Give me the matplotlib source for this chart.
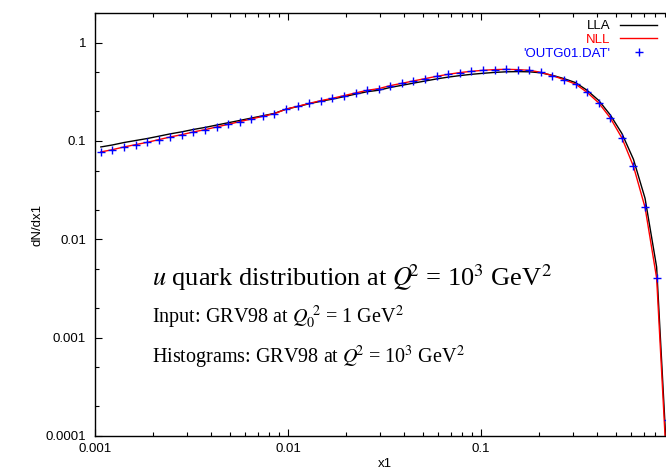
import matplotlib
matplotlib.use("Agg")
import matplotlib.pyplot as plt
from matplotlib.ticker import LogLocator, NullFormatter, FixedLocator, FixedFormatter

plt.rcParams['font.family'] = ['Liberation Sans', 'DejaVu Sans']
plt.rcParams['mathtext.fontset'] = 'stix'

# bin centres (log spaced) of the histogram file
x = [0.001072, 0.001230, 0.001413, 0.001622, 0.001862, 0.002138, 0.002455, 0.002818,
     0.003236, 0.003715, 0.004266, 0.004898, 0.005623, 0.006457, 0.007413, 0.008511,
     0.009772, 0.01122, 0.01288, 0.01479, 0.01698, 0.01950, 0.02239, 0.02570,
     0.02951, 0.03388, 0.03891, 0.04467, 0.05129, 0.05888, 0.06761, 0.07763,
     0.08913, 0.1023, 0.1175, 0.1349, 0.1549, 0.1778, 0.2042, 0.2344,
     0.2692, 0.3090, 0.3548, 0.4074, 0.4677, 0.5370, 0.6166, 0.7079,
     0.8128, 0.9333]

# 'OUTG01.DAT' histogram points
outg = [0.0773, 0.0815, 0.0869, 0.0917, 0.0968, 0.1031, 0.1098, 0.1159,
        0.1235, 0.1303, 0.1388, 0.1475, 0.1572, 0.1674, 0.1779, 0.1895,
        0.2106, 0.2249, 0.2412, 0.2570, 0.2713, 0.2889, 0.3078, 0.3271,
        0.3404, 0.3652, 0.3855, 0.4077, 0.4302, 0.4541, 0.4760, 0.4954,
        0.5105, 0.5227, 0.5313, 0.5351, 0.5313, 0.5227, 0.4989, 0.4616,
        0.4203, 0.3783, 0.3121, 0.2435, 0.1714, 0.1073, 0.0552, 0.0211,
        0.00404, 0.000146]

# NLL evolution
nll = [0.0773, 0.0815, 0.0869, 0.0917, 0.0968, 0.1031, 0.1098, 0.1159,
       0.1235, 0.1303, 0.1388, 0.1475, 0.1572, 0.1674, 0.1779, 0.1895,
       0.2106, 0.2249, 0.2412, 0.2570, 0.2713, 0.2889, 0.3078, 0.3271,
       0.3404, 0.3652, 0.3855, 0.4077, 0.4302, 0.4541, 0.4760, 0.4954,
       0.5105, 0.5227, 0.5313, 0.5351, 0.5313, 0.5227, 0.4989, 0.4616,
       0.4203, 0.3783, 0.3121, 0.2435, 0.1714, 0.1073, 0.0552, 0.0211,
       0.00404, 0.000025]

# LLA evolution
lla = [0.0869, 0.0910, 0.0964, 0.1010, 0.1058, 0.1117, 0.1181, 0.1238,
       0.1309, 0.1372, 0.1451, 0.1531, 0.1616, 0.1709, 0.1804, 0.1908,
       0.2106, 0.2238, 0.2390, 0.2534, 0.2663, 0.2822, 0.2993, 0.3165,
       0.3279, 0.3501, 0.3679, 0.3872, 0.4067, 0.4273, 0.4458, 0.4618,
       0.4759, 0.4873, 0.4976, 0.5047, 0.5070, 0.5047, 0.4931, 0.4648,
       0.4304, 0.3919, 0.3271, 0.2581, 0.1839, 0.1192, 0.0650, 0.0261,
       0.00523, 0.000032]

xticks = [0.001, 0.01, 0.1]
xlabels = ['0.001', '0.01', '0.1']
yticks = [0.0001, 0.001, 0.01, 0.1, 1]
ylabels = ['0.0001', '0.001', '0.01', '0.1', '1']

fig = plt.figure(figsize=(6.66, 4.72), dpi=100)
W, H = 666.0, 472.0
# axes run off the right edge (cropped gnuplot output)
ax = fig.add_axes([95 / W, 36 / H, 579 / W, 423 / H])

ax.plot(x, lla, '-', color='black', lw=1.0, label='LLA')
ax.plot(x, nll, '-', color='red', lw=1.0, label='NLL')
ax.plot(x, outg, '+', color='blue', ms=6, mew=1.0, linestyle='none', label="'OUTG01.DAT'")

ax.set_xscale('log')
ax.set_yscale('log')
ax.set_xlim(0.001, 1)
ax.set_ylim(0.0001, 2)

ax.xaxis.set_major_locator(FixedLocator(xticks))
ax.xaxis.set_major_formatter(FixedFormatter(xlabels))
ax.yaxis.set_major_locator(FixedLocator(yticks))
ax.yaxis.set_major_formatter(FixedFormatter(ylabels))
ax.xaxis.set_minor_locator(LogLocator(base=10, subs=[2, 3, 4, 5, 6, 7, 8, 9]))
ax.yaxis.set_minor_locator(LogLocator(base=10, subs=[2, 5]))
ax.xaxis.set_minor_formatter(NullFormatter())
ax.yaxis.set_minor_formatter(NullFormatter())

ax.tick_params(which='both', direction='in', top=True, right=True, labelsize=9.5, colors='black')
ax.tick_params(which='major', length=5, width=0.8)
ax.tick_params(which='minor', length=3, width=0.8)
ax.tick_params(axis='y', pad=6.5)
ax.tick_params(axis='x', pad=5)
for s in ax.spines.values():
    s.set_linewidth(1.0)

ax.set_xlabel('x1', fontsize=9.5, labelpad=2)
ax.set_ylabel('dN/dx1', fontsize=9.5, labelpad=1)

leg = ax.legend(loc='upper right', bbox_to_anchor=(657 / W, 1 - 20 / H),
                bbox_transform=fig.transFigure, frameon=False, markerfirst=False,
                fontsize=9.5, handlelength=2.8, handletextpad=0.75,
                labelspacing=0.12, borderpad=0, borderaxespad=0)
for t, c in zip(leg.get_texts(), ['black', 'red', 'blue']):
    t.set_color(c)

serif = ['Liberation Serif', 'DejaVu Serif']
fig.text(152 / W, 1 - 286 / H, r'$u$ quark distribution at $Q\!^2$ = 10$^3$ GeV$^2$',
         fontsize=19, family=serif, va='baseline')
fig.text(152 / W, 1 - 323 / H, r'Input: GRV98 at $Q_0^{\ 2}$ = 1 GeV$^2$',
         fontsize=14.5, family=serif, va='baseline')
fig.text(152 / W, 1 - 363 / H, r'Histograms: GRV98 at $Q\!^2$ = 10$^3$ GeV$^2$',
         fontsize=14.5, family=serif, va='baseline')

fig.savefig('out.png', dpi=100)
